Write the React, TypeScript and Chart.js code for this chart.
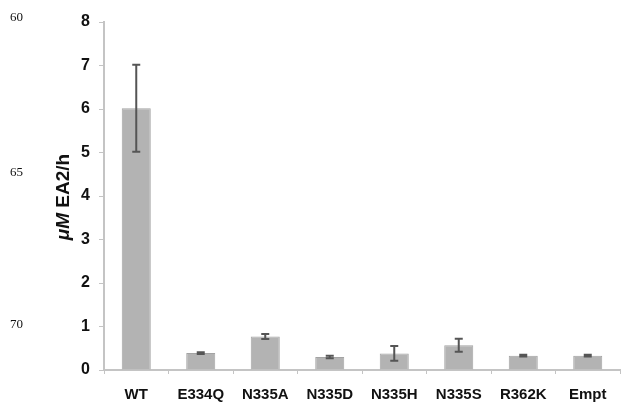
import React, { useEffect, useRef } from "react";
import { Chart, registerables } from "chart.js";

Chart.register(...registerables);

const categories = ["WT", "E334Q", "N335A", "N335D", "N335H", "N335S", "R362K", "Empt"];
const values = [6.02, 0.39, 0.77, 0.3, 0.38, 0.57, 0.33, 0.33];
const errors = [1.0, 0.02, 0.06, 0.03, 0.17, 0.15, 0.02, 0.02];
const yTicks = [0, 1, 2, 3, 4, 5, 6, 7, 8];
const lineNumbers = [
  { label: "60", top: 10 },
  { label: "65", top: 165 },
  { label: "70", top: 317 },
];

const errorBarPlugin = {
  id: "errorBars",
  afterDatasetsDraw(chart: any) {
    const ctx = chart.ctx;
    const meta = chart.getDatasetMeta(0);
    const yScale = chart.scales.y;
    ctx.save();
    ctx.strokeStyle = "#555555";
    ctx.lineWidth = 2;
    meta.data.forEach((bar: any, i: number) => {
      const x = bar.x;
      const yTop = yScale.getPixelForValue(values[i] + errors[i]);
      const yBot = yScale.getPixelForValue(values[i] - errors[i]);
      ctx.beginPath();
      ctx.moveTo(x, yTop);
      ctx.lineTo(x, yBot);
      ctx.moveTo(x - 4, yTop);
      ctx.lineTo(x + 4, yTop);
      ctx.moveTo(x - 4, yBot);
      ctx.lineTo(x + 4, yBot);
      ctx.stroke();
    });
    ctx.restore();
  },
};

const yTitlePlugin = {
  id: "yTitle",
  afterDraw(chart: any) {
    const ctx = chart.ctx;
    ctx.save();
    ctx.translate(69, 197);
    ctx.rotate(-Math.PI / 2);
    ctx.fillStyle = "#111111";
    ctx.textBaseline = "alphabetic";
    const italicFont = "italic bold 19px 'Liberation Sans', Arial, sans-serif";
    const boldFont = "bold 19px 'Liberation Sans', Arial, sans-serif";
    const p1 = "\u03bcM";
    const p2 = " EA2/h";
    ctx.font = italicFont;
    const w1 = ctx.measureText(p1).width;
    ctx.font = boldFont;
    const w2 = ctx.measureText(p2).width;
    const start = -(w1 + w2) / 2;
    ctx.font = italicFont;
    ctx.textAlign = "left";
    ctx.fillText(p1, start, 0);
    ctx.font = boldFont;
    ctx.fillText(p2, start + w1, 0);
    ctx.restore();
  },
};

export default function App() {
  const ref = useRef<HTMLCanvasElement>(null);

  useEffect(() => {
    document.body.style.margin = "0";
    if (!ref.current) return;
    const chart = new Chart(ref.current, {
      type: "bar",
      data: {
        labels: categories,
        datasets: [
          {
            data: values,
            backgroundColor: "#b3b3b3",
            borderColor: "#a3a3a3",
            borderWidth: 1,
            barPercentage: 0.45,
            categoryPercentage: 1,
          },
        ],
      },
      options: {
        animation: false,
        responsive: false,
        layout: { padding: { top: 22, right: 1, bottom: 0, left: 0 } },
        plugins: {
          legend: { display: false },
          tooltip: { enabled: false },
        },
        scales: {
          x: {
            offset: true,
            afterFit: (s: any) => {
              s.height = 33;
            },
            border: { display: true, color: "#c4c4c4", width: 2 },
            grid: {
              display: true,
              offset: true,
              drawOnChartArea: false,
              drawTicks: true,
              tickLength: 4,
              color: "#c4c4c4",
              lineWidth: 1,
            },
            ticks: {
              padding: 12,
              color: "#111111",
              font: { family: "'Liberation Sans', Arial, sans-serif", size: 15, weight: "bold" },
              maxRotation: 0,
              autoSkip: false,
            },
          },
          y: {
            min: 0,
            max: 8,
            afterFit: (s: any) => {
              s.width = 104;
            },
            afterBuildTicks: (s: any) => {
              s.ticks = yTicks.map((v) => ({ value: v }));
            },
            border: { display: true, color: "#c4c4c4", width: 2 },
            grid: {
              display: true,
              drawOnChartArea: false,
              drawTicks: true,
              tickLength: 5,
              color: "#c4c4c4",
              lineWidth: 1,
            },
            ticks: {
              padding: 9,
              color: "#111111",
              font: { family: "'Liberation Sans', Arial, sans-serif", size: 16, weight: "bold" },
            },
          },
        },
      },
      plugins: [errorBarPlugin, yTitlePlugin],
    } as any);
    return () => chart.destroy();
  }, []);

  return (
    <div style={{ position: "relative", width: 621, height: 403, background: "#ffffff" }}>
      <canvas ref={ref} width={621} height={403} style={{ display: "block" }} />
      {lineNumbers.map((n) => (
        <span
          key={n.label}
          style={{
            position: "absolute",
            left: 10,
            top: n.top,
            fontFamily: "'Liberation Serif', 'Times New Roman', serif",
            fontSize: 13,
            lineHeight: "14px",
            color: "#111111",
          }}
        >
          {n.label}
        </span>
      ))}
    </div>
  );
}
